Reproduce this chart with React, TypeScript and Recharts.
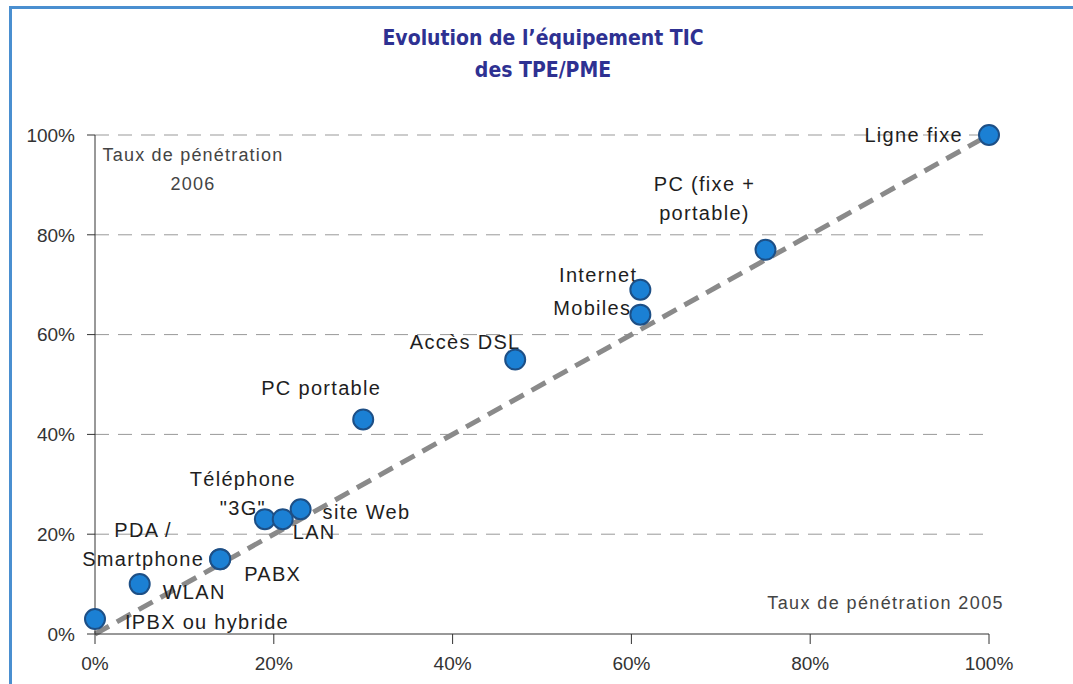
import { ScatterChart, Scatter, XAxis, YAxis, CartesianGrid, ReferenceLine } from 'recharts';

// taux de pénétration 2005 / 2006 (%)
const names = [
  'IPBX ou hybride',
  'WLAN',
  'PABX',
  'PDA / Smartphone',
  'Téléphone "3G"',
  'LAN',
  'site Web',
  'PC portable',
  'Accès DSL',
  'Mobiles',
  'Internet',
  'PC (fixe + portable)',
  'Ligne fixe',
];
const rate2005 = [0, 5, 14, 14, 19, 21, 23, 30, 47, 61, 61, 75, 100];
const rate2006 = [3, 10, 15, 15, 23, 23, 25, 43, 55, 64, 69, 77, 100];
const ticks = [0, 20, 40, 60, 80, 100];

const data = names.map((name, i) => ({ name, x: rate2005[i], y: rate2006[i] }));

// label placement relative to each point: lines, dx, dy, anchor
const labelPos: Record<string, { lines: string[]; dx: number; dy: number; anchor: 'start' | 'middle' | 'end' }> = {
  'IPBX ou hybride': { lines: ['IPBX ou hybride'], dx: 30, dy: 10, anchor: 'start' },
  WLAN: { lines: ['WLAN'], dx: 23, dy: 15, anchor: 'start' },
  PABX: { lines: ['PABX'], dx: 24, dy: 22, anchor: 'start' },
  'PDA / Smartphone': { lines: ['PDA /', 'Smartphone'], dx: -77, dy: -22, anchor: 'middle' },
  'Téléphone "3G"': { lines: ['Téléphone', '"3G"'], dx: -22, dy: -33, anchor: 'middle' },
  LAN: { lines: ['LAN'], dx: 10, dy: 20, anchor: 'start' },
  'site Web': { lines: ['site Web'], dx: 22, dy: 10, anchor: 'start' },
  'PC portable': { lines: ['PC portable'], dx: -42, dy: -24, anchor: 'middle' },
  'Accès DSL': { lines: ['Accès DSL'], dx: -50, dy: -11, anchor: 'middle' },
  Mobiles: { lines: ['Mobiles'], dx: -9, dy: 0, anchor: 'end' },
  Internet: { lines: ['Internet'], dx: -3, dy: -8, anchor: 'end' },
  'PC (fixe + portable)': { lines: ['PC (fixe +', 'portable)'], dx: -61, dy: -59, anchor: 'middle' },
  'Ligne fixe': { lines: ['Ligne fixe'], dx: -26, dy: 7, anchor: 'end' },
};

const labelFont = '"Liberation Sans", Arial, sans-serif';

const Dot = (props: any) => {
  const { cx, cy, payload } = props;
  const lp = labelPos[payload.name];
  return (
    <g>
      {lp &&
        lp.lines.map((line, k) => (
          <text
            key={k}
            x={cx + lp.dx}
            y={cy + lp.dy + k * 29}
            textAnchor={lp.anchor}
            fontFamily={labelFont}
            fontSize={20}
            letterSpacing={1.3}
            fill="#1e1e1e"
          >
            {line}
          </text>
        ))}
      <circle cx={cx} cy={cy} r={10} fill="#1b80d4" stroke="#1d4f86" strokeWidth={2} />
    </g>
  );
};

const YTitle = (props: any) => {
  const { viewBox } = props;
  const x = viewBox.x + viewBox.width;
  return (
    <g fontFamily={labelFont} fontSize={18} letterSpacing={1.2} fill="#444">
      <text x={x + 98} y={viewBox.y + 26} textAnchor="middle">Taux de pénétration</text>
      <text x={x + 98} y={viewBox.y + 55} textAnchor="middle">2006</text>
    </g>
  );
};

const XTitle = (props: any) => {
  const { viewBox } = props;
  return (
    <text
      x={viewBox.x + viewBox.width + 15}
      y={viewBox.y - 25}
      textAnchor="end"
      fontFamily={labelFont}
      fontSize={18}
      letterSpacing={1.4}
      fill="#444"
    >
      Taux de pénétration 2005
    </text>
  );
};

export default function App() {
  return (
    <div style={{ position: 'absolute', left: 0, top: 0, width: 1073, height: 684, background: '#fff', overflow: 'hidden' }}>
      <div style={{ position: 'absolute', left: 9, top: 6, width: 1073, height: 3, background: '#4a8fd0' }} />
      <div style={{ position: 'absolute', left: 9, top: 6, width: 3, height: 684, background: '#4a8fd0' }} />
      <div
        style={{
          position: 'absolute',
          left: 0,
          top: 22,
          width: 1086,
          textAlign: 'center',
          fontFamily: '"DejaVu Sans Condensed", "DejaVu Sans", sans-serif',
          fontWeight: 'bold',
          fontSize: 21,
          lineHeight: '32px',
          color: '#2e3192',
        }}
      >
        <div>Evolution de l’équipement TIC</div>
        <div>des TPE/PME</div>
      </div>
      <div style={{ position: 'absolute', left: 0, top: 0 }}>
        <ScatterChart width={1073} height={684} margin={{ top: 135, right: 84, bottom: 0, left: 0 }}>
          <CartesianGrid vertical={false} stroke="#999" strokeDasharray="14 9" horizontalValues={[20, 40, 60, 80, 100]} />
          <XAxis
            type="number"
            dataKey="x"
            domain={[0, 100]}
            ticks={ticks}
            tickFormatter={(v) => `${v}%`}
            height={50}
            stroke="#333"
            tickSize={10}
            tickMargin={13}
            tick={{ fill: '#333', fontSize: 19, fontFamily: labelFont }}
            label={<XTitle />}
          />
          <YAxis
            type="number"
            dataKey="y"
            domain={[0, 100]}
            ticks={ticks}
            tickFormatter={(v) => `${v}%`}
            width={95}
            stroke="#333"
            tickSize={8}
            tickMargin={12}
            tick={{ fill: '#333', fontSize: 19, fontFamily: labelFont }}
            label={<YTitle />}
          />
          <ReferenceLine
            segment={[{ x: 0, y: 0 }, { x: 100, y: 100 }]}
            stroke="#8a8a8a"
            strokeWidth={5}
            strokeDasharray="16 9"
          />
          <Scatter data={data} isAnimationActive={false} shape={<Dot />} />
        </ScatterChart>
      </div>
    </div>
  );
}
